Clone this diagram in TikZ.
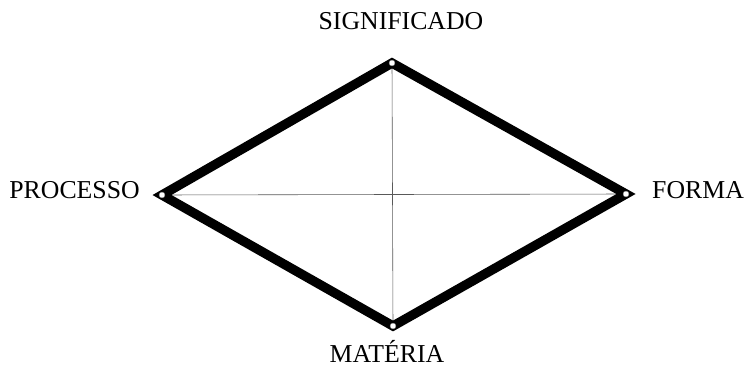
\documentclass[tikz,border=0pt]{standalone}
\usepackage{fontspec}
\setmainfont{Liberation Serif}
\usetikzlibrary{positioning}

\begin{document}
\begin{tikzpicture}[x=0.03cm,y=-0.03cm,
    lbl/.style={font=\fontsize{22}{26}\selectfont, inner sep=0pt},
    rim/.style={line width=8pt, line join=miter},
    axis/.style={gray!70!black, line width=0.5pt},
    dot/.style={circle, fill=white, draw=gray, line width=0.3pt, inner sep=0pt, minimum size=5pt}]
  \useasboundingbox (0,0) rectangle (745,367);
  % vertices of the diamond
  \coordinate (sig) at (392,63);
  \coordinate (pro) at (162,195);
  \coordinate (for) at (626,194);
  \coordinate (mat) at (393,326);
  % crossing lines
  \draw[axis] (sig) -- (mat);
  \draw[axis] (pro) -- (for);
  \draw[rim] (sig) -- (for) -- (mat) -- (pro) -- cycle;
  \foreach \v in {sig,pro,for,mat}
    \node[dot] at (\v) {};
  % labels
  \node[lbl, anchor=base] (tsig) at (401,30) {SIGNIFICADO};
  \node[lbl, anchor=base east] (tpro) at (140,198) {PROCESSO};
  \node[lbl, anchor=base west] (tfor) at (652,198) {FORMA};
  \node[lbl, anchor=base] (tmat) at (387,362) {MATÉRIA};
\end{tikzpicture}
\end{document}
